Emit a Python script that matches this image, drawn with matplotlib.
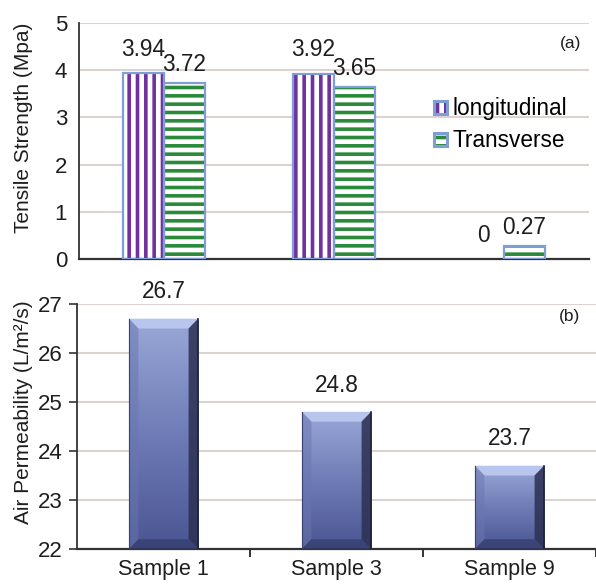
import numpy as np
import matplotlib
matplotlib.use("Agg")
import matplotlib.pyplot as plt
from matplotlib.patches import Polygon, Rectangle, Patch
from matplotlib.colors import LinearSegmentedColormap
from matplotlib.legend_handler import HandlerBase

plt.rcParams['font.family'] = ['Liberation Sans', 'DejaVu Sans']
plt.rcParams['hatch.linewidth'] = 2.6

samples = ["Sample 1", "Sample 3", "Sample 9"]
longitudinal = [3.94, 3.92, 0.0]
transverse = [3.72, 3.65, 0.27]
long_labels = ["3.94", "3.92", "0"]
trans_labels = ["3.72", "3.65", "0.27"]
air_perm = [26.7, 24.8, 23.7]
air_labels = ["26.7", "24.8", "23.7"]
top_yticks = [0, 1, 2, 3, 4, 5]
bot_yticks = [22, 23, 24, 25, 26, 27]

W, H = 596, 584
fig = plt.figure(figsize=(W / 100, H / 100), dpi=100)

grid_c = '#dcd2d0'
spine_c = '#333333'
txt_c = '#1e1e1e'
purple = '#7030a0'
green = '#2a8a3a'
edge_blue = '#7f9fd4'
FS = 16.3

# ---------------- top panel ----------------
ax1 = fig.add_axes([79 / W, 1 - 259 / H, 510 / W, 236 / H])
x = np.arange(len(samples))
bw = 0.24
xl = x - bw / 2
xt = x + bw / 2
lw_long = [1.6 if v > 0 else 0 for v in longitudinal]
lw_trans = [1.6 if v > 0 else 0 for v in transverse]
ax1.bar(xl, longitudinal, bw, color='white', edgecolor=purple, hatch='||', linewidth=0, zorder=2)
ax1.bar(xl, longitudinal, bw, color='none', edgecolor=edge_blue, linewidth=lw_long, zorder=3)
ax1.bar(xt, transverse, bw, color='white', edgecolor=green, hatch='--', linewidth=0, zorder=2)
ax1.bar(xt, transverse, bw, color='none', edgecolor=edge_blue, linewidth=lw_trans, zorder=3)

for xi, v, s in zip(xl, longitudinal, long_labels):
    ax1.annotate(s, (xi, v), xytext=(0, 9), textcoords='offset points',
                 ha='center', va='bottom', fontsize=FS, color=txt_c)
for xi, v, s in zip(xt, transverse, trans_labels):
    ax1.annotate(s, (xi, v), xytext=(0, 5), textcoords='offset points',
                 ha='center', va='bottom', fontsize=FS, color=txt_c)

ax1.set_xlim(-0.5, 2.5)
ax1.set_ylim(0, 5)
ax1.set_yticks(top_yticks)
ax1.set_xticks([])
ax1.tick_params(axis='y', length=0, pad=8.5, labelsize=16, labelcolor=txt_c)
ax1.grid(axis='y', color=grid_c, linewidth=1.5, zorder=0)
ax1.set_axisbelow(True)
for sp in ['top', 'right']:
    ax1.spines[sp].set_visible(False)
ax1.spines['left'].set_color(spine_c)
ax1.spines['bottom'].set_color(spine_c)
ax1.spines['left'].set_linewidth(1.3)
ax1.spines['bottom'].set_linewidth(1.6)
ax1.set_ylabel("Tensile Strength (Mpa)", fontsize=15, color=txt_c)
ax1.yaxis.set_label_coords(-0.09, 0.555)
ax1.text(0.985, 0.915, "(a)", transform=ax1.transAxes, ha='right', va='center', fontsize=12.5,
         color=txt_c)


class HatchHandler(HandlerBase):
    def __init__(self, hcolor, hatch):
        super().__init__()
        self.hcolor = hcolor
        self.hatch = hatch

    def create_artists(self, legend, orig_handle, xdescent, ydescent, width, height, fontsize, trans):
        s = height * 0.82
        x0 = width - s
        y0 = -ydescent + (height - s) / 2
        r1 = Rectangle((x0, y0), s, s, facecolor='white', edgecolor=self.hcolor,
                       hatch=self.hatch, linewidth=0, transform=trans)
        r2 = Rectangle((x0, y0), s, s, facecolor='none', edgecolor=edge_blue,
                       linewidth=2.2, transform=trans)
        return [r1, r2]


h1 = Patch(label='longitudinal')
h2 = Patch(label='Transverse')
ax1.legend(handles=[h1, h2], loc='upper left', bbox_to_anchor=(0.694, 0.685),
           frameon=False, fontsize=FS, handlelength=0.6, handletextpad=0.25,
           labelspacing=0.38, borderpad=0, borderaxespad=0,
           handler_map={h1: HatchHandler(purple, '||'), h2: HatchHandler(green, '--')})

# ---------------- bottom panel ----------------
ax2 = fig.add_axes([77 / W, 1 - 549 / H, 519 / W, 245 / H])
ax2.set_xlim(-0.5, 2.5)
ax2.set_ylim(22, 27)
bw2 = 0.4
base = 22
bars = ax2.bar(x, np.array(air_perm) - base, bw2, bottom=base, color='none', linewidth=0)

grad = LinearSegmentedColormap.from_list('g', ['#4a5591', '#6f7cb6', '#9aa8d8'])
bx = 0.055
by = 0.2
for rect, v in zip(bars, air_perm):
    x0 = rect.get_x()
    x1 = x0 + rect.get_width()
    y0 = base
    y1 = v
    img = np.linspace(0, 1, 256).reshape(-1, 1)
    im = ax2.imshow(img, extent=[x0, x1, y0, y1], origin='lower', cmap=grad,
                    aspect='auto', zorder=2)
    clip = Rectangle((x0, y0), x1 - x0, y1 - y0, transform=ax2.transData)
    im.set_clip_path(clip)
    top = Polygon([(x0, y1), (x1, y1), (x1 - bx, y1 - by), (x0 + bx, y1 - by)],
                  closed=True, facecolor='#b8c6ee', edgecolor='none', zorder=3)
    left = Polygon([(x0, y0), (x0, y1), (x0 + bx, y1 - by), (x0 + bx, y0 + by)],
                   closed=True, facecolor='#6a76b0', edgecolor='none', alpha=0.5, zorder=3)
    right = Polygon([(x1, y0), (x1, y1), (x1 - bx, y1 - by), (x1 - bx, y0 + by)],
                    closed=True, facecolor='#2b3052', edgecolor='none', alpha=0.85, zorder=3)
    bottom = Polygon([(x0, y0), (x1, y0), (x1 - bx, y0 + by), (x0 + bx, y0 + by)],
                     closed=True, facecolor='#343c6c', edgecolor='none', alpha=0.7, zorder=3)
    for p in (top, left, right, bottom):
        ax2.add_patch(p)
    ax2.plot([x1, x1], [y0, y1], color='#1e2238', linewidth=1.2, zorder=4)
    ax2.plot([x0, x0], [y0, y1], color='#3a4270', linewidth=0.8, zorder=4)

for xi, v, s in zip(x, air_perm, air_labels):
    ax2.annotate(s, (xi, v), xytext=(0, 11), textcoords='offset points',
                 ha='center', va='bottom', fontsize=FS, color=txt_c)

ax2.set_yticks(bot_yticks)
ax2.set_xticks(x)
ax2.set_xticklabels(samples)
ax2.set_xticks([0.5, 1.5, 2.5], minor=True)
ax2.tick_params(axis='x', which='major', length=0, pad=7, labelsize=15.5, labelcolor=txt_c)
ax2.tick_params(axis='x', which='minor', length=6, width=1.4, direction='out', color=spine_c)
ax2.tick_params(axis='y', length=6, width=1.2, direction='out', pad=4, labelsize=16,
                labelcolor=txt_c, color=spine_c)
ax2.grid(axis='y', color=grid_c, linewidth=1.5, zorder=0)
ax2.set_axisbelow(True)
for sp in ['top', 'right']:
    ax2.spines[sp].set_visible(False)
ax2.spines['left'].set_color(spine_c)
ax2.spines['bottom'].set_color(spine_c)
ax2.spines['left'].set_linewidth(1.3)
ax2.spines['bottom'].set_linewidth(1.6)
ax2.set_ylabel("Air Permeability (L/m²/s)", fontsize=15, color=txt_c)
ax2.yaxis.set_label_coords(-0.085, 0.56)
ax2.text(0.97, 0.95, "(b)", transform=ax2.transAxes, ha='right', va='center', fontsize=12.5,
         color=txt_c)

fig.savefig("out.png", dpi=100)
